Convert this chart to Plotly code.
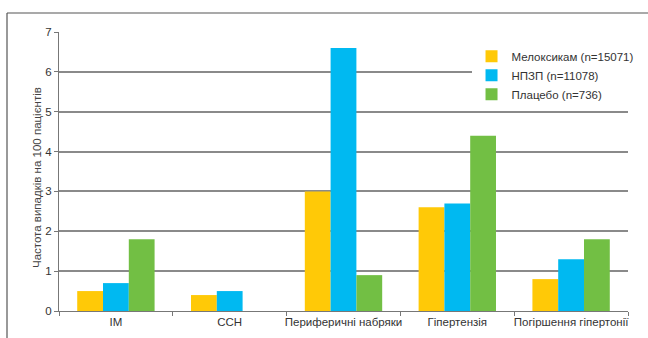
import plotly.graph_objects as go

categories = ["IМ", "ССН", "Периферичні набряки", "Гіпертензія", "Погіршення гіпертонії"]
meloxicam = [0.5, 0.4, 3.0, 2.6, 0.8]
nsaid = [0.7, 0.5, 6.6, 2.7, 1.3]
placebo = [1.8, 0.0, 0.9, 4.4, 1.8]
series_names = ["Мелоксикам (n=15071)", "НПЗП (n=11078)", "Плацебо (n=736)"]
colors = ["#FFC907", "#00B9F1", "#72BF44"]
y_ticks = [0, 1, 2, 3, 4, 5, 6, 7]
y_title = "Частота випадків на 100 пацієнтів"

fig = go.Figure()
for name, vals, col in zip(series_names, [meloxicam, nsaid, placebo], colors):
    fig.add_trace(go.Bar(x=categories, y=vals, name=name, marker=dict(color=col, line=dict(width=0))))

font = "Liberation Sans, Arial, sans-serif"
fig.update_layout(
    width=648, height=338,
    margin=dict(l=59, r=20, t=32, b=27, autoexpand=False),
    paper_bgcolor="white", plot_bgcolor="white",
    barmode="group", bargap=0.32, bargroupgap=0,
    font=dict(family=font, size=11.5, color="#333"),
    showlegend=True,
    legend=dict(x=0.725, y=0.965, xanchor="left", yanchor="top",
                font=dict(size=11.5, color="#333"), bgcolor="white",
                itemwidth=30, tracegroupgap=0),
    xaxis=dict(showgrid=False, showline=True, linecolor="#777", linewidth=1,
               ticks="outside", tickson="boundaries", ticklen=4, tickcolor="#777",
               tickangle=0, tickfont=dict(size=11.5, color="#333")),
    yaxis=dict(range=[0, 7], tickvals=y_ticks, showgrid=True, gridcolor="#8a8a8a", gridwidth=1.5,
               showline=True, linecolor="#777", linewidth=1, ticks="outside", ticklen=4,
               tickcolor="#777", zeroline=False, tickfont=dict(size=11.5, color="#333")),
    annotations=[
        dict(text=y_title, xref="paper", yref="paper", x=-22/569, y=133/279,
             xanchor="center", yanchor="middle", textangle=-90, showarrow=False,
             font=dict(size=11.5, color="#444")),
    ],
    shapes=[
        dict(type="line", xref="paper", yref="paper", x0=-52/569, x1=1 + 20/569, y0=1 + 19/279, y1=1 + 19/279,
             line=dict(color="#555", width=1.2)),
        dict(type="line", xref="paper", yref="paper", x0=-52/569, x1=-52/569, y0=1 + 19/279, y1=-27/279,
             line=dict(color="#555", width=1.2)),
    ],
)

fig.write_html("out.html")
